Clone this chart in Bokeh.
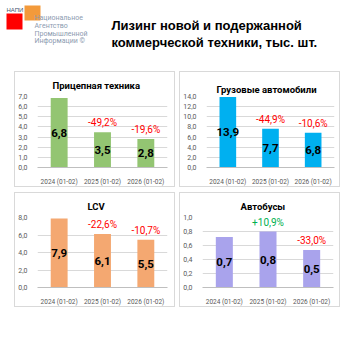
from bokeh.plotting import figure
from bokeh.models import FactorRange, Range1d, FixedTicker, ColumnDataSource, Spacer
from bokeh.layouts import column, row
from bokeh.embed import file_html
from bokeh.resources import INLINE
from bokeh.core.properties import value

periods = ["2024 (01-02)", "2025 (01-02)", "2026 (01-02)"]

trailer_vals = [6.85, 3.48, 2.80]
trailer_labels = ["6,8", "3,5", "2,8"]
trailer_changes = ["", "-49,2%", "-19,6%"]
trailer_ticks = [0.0, 1.0, 2.0, 3.0, 4.0, 5.0, 6.0, 7.0]
trailer_tick_labels = ["0,0", "1,0", "2,0", "3,0", "4,0", "5,0", "6,0", "7,0"]

truck_vals = [13.9, 7.65, 6.84]
truck_labels = ["13,9", "7,7", "6,8"]
truck_changes = ["", "-44,9%", "-10,6%"]
truck_ticks = [0.0, 2.0, 4.0, 6.0, 8.0, 10.0, 12.0, 14.0]
truck_tick_labels = ["0,0", "2,0", "4,0", "6,0", "8,0", "10,0", "12,0", "14,0"]

lcv_vals = [7.9, 6.12, 5.46]
lcv_labels = ["7,9", "6,1", "5,5"]
lcv_changes = ["", "-22,6%", "-10,7%"]
lcv_ticks = [0.0, 2.0, 4.0, 6.0, 8.0]
lcv_tick_labels = ["0,0", "2,0", "4,0", "6,0", "8,0"]

bus_vals = [0.72, 0.80, 0.535]
bus_labels = ["0,7", "0,8", "0,5"]
bus_changes = ["", "+10,9%", "-33,0%"]
bus_ticks = [0.0, 0.2, 0.4, 0.6, 0.8, 1.0]
bus_tick_labels = ["0,0", "0,2", "0,4", "0,6", "0,8", "1,0"]

FONT = "Roboto"


def panel(title, vals, labels, changes, color, ticks, tick_labels,
          w, h, bl, br, bb, standoff, offset):
    p = figure(x_range=FactorRange(*periods), y_range=Range1d(0, ticks[-1]),
               width=w, height=h, output_backend="svg", toolbar_location=None,
               min_border_left=bl, min_border_right=br,
               min_border_top=0, min_border_bottom=bb,
               background_fill_color="white", border_fill_color="white")
    p.styles = {"border": "1px solid #d9d9d9", "box-sizing": "border-box"}
    p.outline_line_color = None
    p.title.text = title
    p.title.align = "left"
    p.title.offset = offset
    p.title.standoff = standoff
    p.title.text_font = FONT
    p.title.text_font_size = "9.5px"
    p.title.text_font_style = "bold"
    p.title.text_color = "#000000"

    p.xgrid.grid_line_color = None
    p.ygrid.grid_line_color = "#d9d9d9"
    p.ygrid.grid_line_width = 1

    p.xaxis.axis_line_color = "#bfbfbf"
    p.xaxis.major_tick_line_color = None
    p.xaxis.major_label_text_font = FONT
    p.xaxis.major_label_text_font_size = "6.5px"
    p.xaxis.major_label_text_color = "#595959"
    p.xaxis.major_label_standoff = 4

    p.yaxis.axis_line_color = None
    p.yaxis.major_tick_line_color = None
    p.yaxis.minor_tick_line_color = None
    p.yaxis.ticker = FixedTicker(ticks=ticks)
    p.yaxis.major_label_overrides = dict(zip(ticks, tick_labels))
    p.yaxis.major_label_text_font = FONT
    p.yaxis.major_label_text_font_size = "7px"
    p.yaxis.major_label_text_color = "#595959"
    p.yaxis.major_label_standoff = 4

    src = ColumnDataSource(dict(
        x=periods, top=vals, mid=[v / 2 for v in vals], lab=labels,
        chg=changes,
        chg_color=["#00B050" if c.startswith("+") else "#FF0000" for c in changes],
    ))
    p.vbar(x="x", top="top", width=0.39, source=src, fill_color=color, line_color=None)
    p.text(x="x", y="mid", text="lab", source=src, text_align="center",
           text_baseline="middle", text_font=value(FONT), text_font_size="11.5px",
           text_font_style="bold", text_color="#000000")
    p.text(x="x", y="top", text="chg", source=src, text_align="center",
           text_baseline="bottom", y_offset=-4, text_font=value(FONT),
           text_font_size="10px", text_color="chg_color")
    return p


p1 = panel("Прицепная техника", trailer_vals, trailer_labels, trailer_changes,
           "#93C572", trailer_ticks, trailer_tick_labels, 161, 116, 19, 9, 18, 11, 15)
p2 = panel("Грузовые автомобили", truck_vals, truck_labels, truck_changes,
           "#00B0F0", truck_ticks, truck_tick_labels, 161, 116, 19, 7, 18, 4, 10)
p3 = panel("LCV", lcv_vals, lcv_labels, lcv_changes,
           "#F4A871", lcv_ticks, lcv_tick_labels, 161, 115, 19, 9, 17, 11, 50)
p4 = panel("Автобусы", bus_vals, bus_labels, bus_changes,
           "#A9A3EC", bus_ticks, bus_tick_labels, 161, 115, 19, 8, 18, 11, 38)

# header
h = figure(width=354, height=71, x_range=Range1d(0, 354), y_range=Range1d(71, 0),
           output_backend="svg", toolbar_location=None, min_border=0)
h.axis.visible = False
h.grid.visible = False
h.outline_line_color = None
h.quad(left=[6], right=[22], top=[13], bottom=[29], fill_color="#FF0000", line_color=None)
h.quad(left=[24], right=[40], top=[5], bottom=[20], fill_color="#F39A3B", line_color=None)
h.text(x=[6], y=[9], text=["НАПИ"], text_font=value("Liberation Sans"), text_font_size="6px",
       text_color="#44546A", text_baseline="middle")
logo_lines = ["Национальное", "Агентство", "Промышленной", "Информации ©"]
h.text(x=[34] * 4, y=[17, 25, 33, 40], text=logo_lines, text_font=value("Roboto"),
       text_font_size="7px", text_color="#8C9BB0", text_baseline="middle")
h.text(x=[111, 111], y=[25, 42], text=["Лизинг новой и подержанной", "коммерческой техники, тыс. шт."],
       text_font=value("Liberation Sans"), text_font_size="13px", text_font_style="bold",
       text_color="#000000", text_baseline="middle")

layout = column(
    h,
    row(Spacer(width=14), p1, Spacer(width=4), p2),
    Spacer(height=5),
    row(Spacer(width=14), p3, Spacer(width=4), p4),
)

open("out.html", "w").write(file_html(layout, INLINE))
